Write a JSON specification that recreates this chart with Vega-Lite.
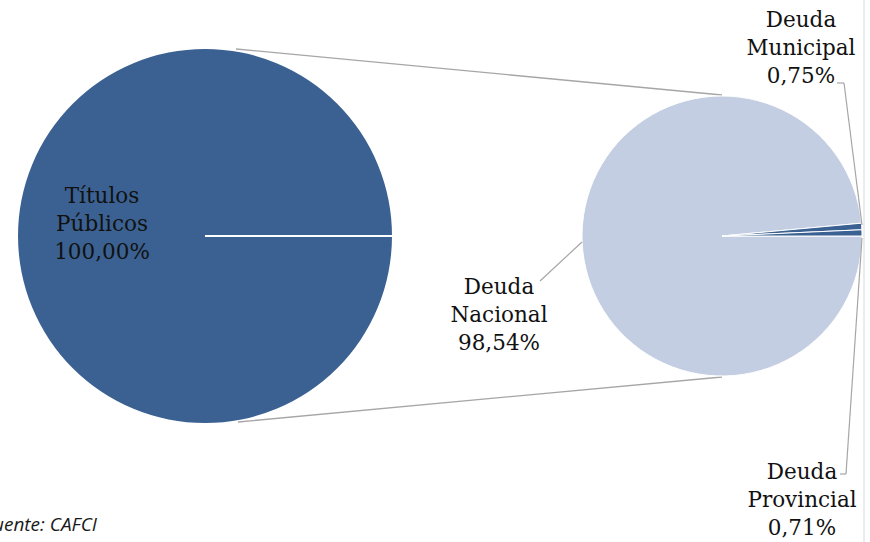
{
  "$schema": "https://vega.github.io/schema/vega-lite/v6.json",
  "width": 870,
  "height": 542,
  "autosize": {"type": "none"},
  "padding": 0,
  "background": "white",
  "config": {"view": {"stroke": null}},
  "datasets": {
    "connectors": [
      {"x": 236, "y": 49, "x2": 722, "y2": 95},
      {"x": 238, "y": 422, "x2": 722, "y2": 377}
    ],
    "border": [{"x": 864, "y": 0, "x2": 864, "y2": 542}],
    "primary": [{"name": "Títulos Públicos", "value": 100, "cx": 205, "cy": 236}],
    "primaryEdge": [{"x": 205, "y": 236, "x2": 392, "y2": 236}],
    "secondary": [
      {"name": "Deuda Nacional", "value": 98.54, "order": 1, "cx": 722, "cy": 236},
      {"name": "Deuda Municipal", "value": 0.75, "order": 2, "cx": 722, "cy": 236},
      {"name": "Deuda Provincial", "value": 0.71, "order": 3, "cx": 722, "cy": 236}
    ],
    "leaders": [
      {"x": 837, "y": 83, "x2": 844, "y2": 83},
      {"x": 844, "y": 83, "x2": 862, "y2": 225},
      {"x": 840, "y": 474, "x2": 846, "y2": 474},
      {"x": 846, "y": 474, "x2": 862, "y2": 238},
      {"x": 540, "y": 281, "x2": 582, "y2": 242}
    ],
    "labels": [
      {"label": "Títulos\nPúblicos\n100,00%", "x": 102, "y": 203},
      {"label": "Deuda\nNacional\n98,54%", "x": 499, "y": 294},
      {"label": "Deuda\nMunicipal\n0,75%", "x": 801, "y": 27},
      {"label": "Deuda\nProvincial\n0,71%", "x": 802, "y": 479}
    ],
    "source": [{"label": "Fuente:  CAFCI", "x": 97, "y": 531}]
  },
  "encoding": {},
  "layer": [
    {
      "data": {"name": "border"},
      "mark": {"type": "rule", "color": "#D9D9D9", "strokeWidth": 1},
      "encoding": {
        "x": {"field": "x", "type": "quantitative", "scale": {"domain": [0, 870], "nice": false, "zero": false}, "axis": null},
        "y": {"field": "y", "type": "quantitative", "scale": {"domain": [0, 542], "nice": false, "zero": false, "reverse": true}, "axis": null},
        "x2": {"field": "x2"},
        "y2": {"field": "y2"}
      }
    },
    {
      "data": {"name": "connectors"},
      "mark": {"type": "rule", "color": "#A6A6A6", "strokeWidth": 1.3},
      "encoding": {
        "x": {"field": "x", "type": "quantitative", "scale": {"domain": [0, 870], "nice": false, "zero": false}, "axis": null},
        "y": {"field": "y", "type": "quantitative", "scale": {"domain": [0, 542], "nice": false, "zero": false, "reverse": true}, "axis": null},
        "x2": {"field": "x2"},
        "y2": {"field": "y2"}
      }
    },
    {
      "data": {"name": "primary"},
      "transform": [{"stack": "value", "groupby": [], "as": ["v0", "v1"]}],
      "mark": {"type": "arc", "outerRadius": 187, "color": "#3B6192"},
      "encoding": {
        "x": {"field": "cx", "type": "quantitative", "scale": {"domain": [0, 870], "nice": false, "zero": false}, "axis": null},
        "y": {"field": "cy", "type": "quantitative", "scale": {"domain": [0, 542], "nice": false, "zero": false, "reverse": true}, "axis": null},
        "theta": {"field": "v0", "type": "quantitative", "scale": {"domain": [0, 100], "range": [1.5708, 7.854]}},
        "theta2": {"field": "v1"}
      }
    },
    {
      "data": {"name": "primaryEdge"},
      "mark": {"type": "rule", "color": "white", "strokeWidth": 2},
      "encoding": {
        "x": {"field": "x", "type": "quantitative", "scale": {"domain": [0, 870], "nice": false, "zero": false}, "axis": null},
        "y": {"field": "y", "type": "quantitative", "scale": {"domain": [0, 542], "nice": false, "zero": false, "reverse": true}, "axis": null},
        "x2": {"field": "x2"},
        "y2": {"field": "y2"}
      }
    },
    {
      "data": {"name": "secondary"},
      "transform": [{"stack": "value", "groupby": [], "sort": [{"field": "order"}], "as": ["v0", "v1"]}],
      "mark": {"type": "arc", "outerRadius": 140, "stroke": "white", "strokeWidth": 1},
      "encoding": {
        "x": {"field": "cx", "type": "quantitative", "scale": {"domain": [0, 870], "nice": false, "zero": false}, "axis": null},
        "y": {"field": "cy", "type": "quantitative", "scale": {"domain": [0, 542], "nice": false, "zero": false, "reverse": true}, "axis": null},
        "theta": {"field": "v0", "type": "quantitative", "scale": {"domain": [0, 100], "range": [1.5708, 7.854]}},
        "theta2": {"field": "v1"},
        "color": {
          "field": "name",
          "type": "nominal",
          "scale": {"domain": ["Deuda Nacional", "Deuda Municipal", "Deuda Provincial"], "range": ["#C4CEE2", "#3B6192", "#3B6192"]},
          "legend": null
        }
      }
    },
    {
      "data": {"name": "leaders"},
      "mark": {"type": "rule", "color": "#A6A6A6", "strokeWidth": 1.2},
      "encoding": {
        "x": {"field": "x", "type": "quantitative", "scale": {"domain": [0, 870], "nice": false, "zero": false}, "axis": null},
        "y": {"field": "y", "type": "quantitative", "scale": {"domain": [0, 542], "nice": false, "zero": false, "reverse": true}, "axis": null},
        "x2": {"field": "x2"},
        "y2": {"field": "y2"}
      }
    },
    {
      "data": {"name": "labels"},
      "mark": {"type": "text", "font": "DejaVu Serif", "fontSize": 21.5, "lineHeight": 28, "lineBreak": "\n", "align": "center", "baseline": "alphabetic", "color": "#111111"},
      "encoding": {
        "x": {"field": "x", "type": "quantitative", "scale": {"domain": [0, 870], "nice": false, "zero": false}, "axis": null},
        "y": {"field": "y", "type": "quantitative", "scale": {"domain": [0, 542], "nice": false, "zero": false, "reverse": true}, "axis": null},
        "text": {"field": "label"}
      }
    },
    {
      "data": {"name": "source"},
      "mark": {"type": "text", "font": "Open Sans", "fontSize": 19, "fontStyle": "italic", "align": "right", "baseline": "alphabetic", "color": "#1A1A1A"},
      "encoding": {
        "x": {"field": "x", "type": "quantitative", "scale": {"domain": [0, 870], "nice": false, "zero": false}, "axis": null},
        "y": {"field": "y", "type": "quantitative", "scale": {"domain": [0, 542], "nice": false, "zero": false, "reverse": true}, "axis": null},
        "text": {"field": "label"}
      }
    }
  ]
}
